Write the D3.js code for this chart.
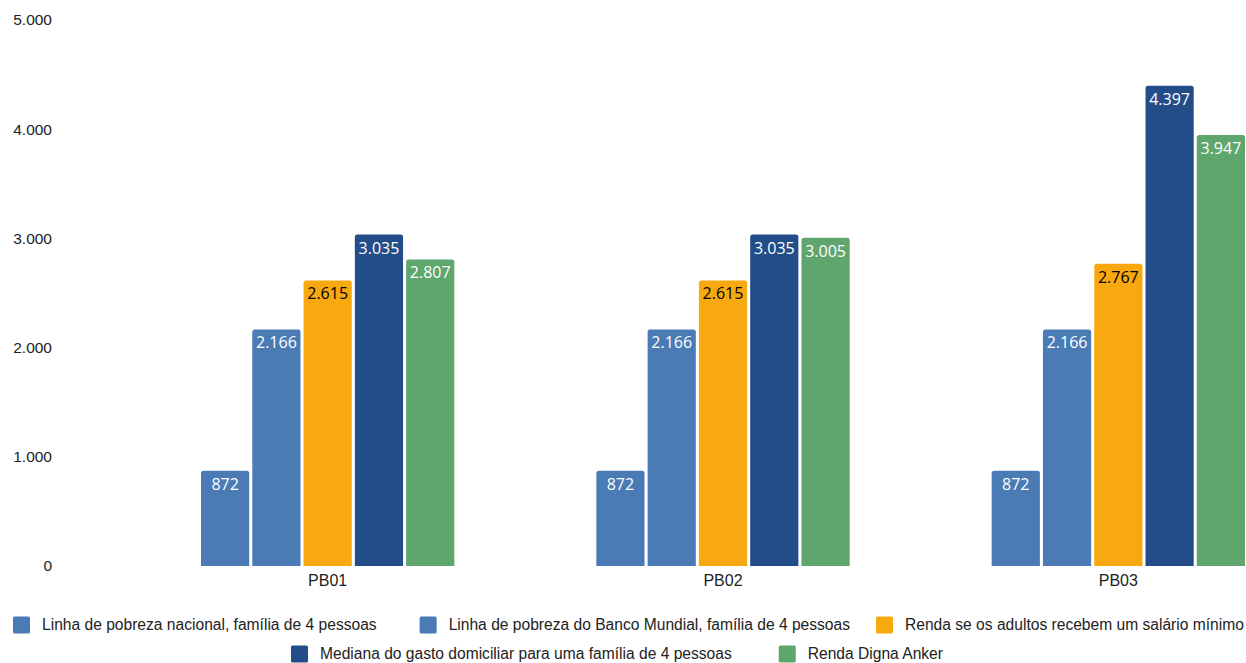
<!DOCTYPE html>
<html>
<head>
<meta charset="utf-8">
<script src="https://d3js.org/d3.v7.min.js"></script>
<style>
body { margin:0; background:#fff; }
text { font-family: "Liberation Sans", Arial, sans-serif; }
</style>
</head>
<body>
<div id="chart"></div>
<script>
// dados
var categories = ["PB01", "PB02", "PB03"];
var seriesNames = [
    "Linha de pobreza nacional, família de 4 pessoas",
    "Linha de pobreza do Banco Mundial, família de 4 pessoas",
    "Renda se os adultos recebem um salário mínimo",
    "Mediana do gasto domiciliar para uma família de 4 pessoas",
    "Renda Digna Anker"
];
var nacional = [872, 872, 872];
var bancoMundial = [2166, 2166, 2166];
var salarioMinimo = [2615, 2615, 2767];
var medianaGasto = [3035, 3035, 4397];
var rendaDigna = [2807, 3005, 3947];
var yTicks = [0, 1000, 2000, 3000, 4000, 5000];

var seriesValues = [nacional, bancoMundial, salarioMinimo, medianaGasto, rendaDigna];
var colors = ["#4a7bb5", "#4a7bb5", "#f7a90f", "#234d88", "#5ea66d"];
var labelColors = ["#fff", "#fff", "#000", "#fff", "#fff"];

var W = 1246, H = 663;
var svg = d3.select("#chart").append("svg").attr("width", W).attr("height", H);

var y = d3.scaleLinear().domain([0, 5000]).range([566, 20]);
var x0 = d3.scaleBand().domain(categories).range([130, 1316]);
var x1 = d3.scaleBand().domain(d3.range(seriesNames.length))
    .range([71, x0.bandwidth() - 71]).paddingInner(0.06);

function fmt(v){ return d3.format(",")(v).replace(/,/g, "."); }

// eixo y (somente textos)
svg.selectAll(".yLabel").data(yTicks).enter().append("text")
    .attr("class", "yLabel")
    .attr("x", 52)
    .attr("y", function(d){ return y(d); })
    .attr("dy", "0.35em")
    .attr("text-anchor", "end")
    .style("font-size", "15.5px")
    .style("fill", "#222")
    .text(fmt);

// rótulos das categorias
svg.selectAll(".xLabel").data(categories).enter().append("text")
    .attr("class", "xLabel")
    .attr("x", function(d){ return x0(d) + x0.bandwidth()/2; })
    .attr("y", 580)
    .attr("dy", "0.35em")
    .attr("text-anchor", "middle")
    .style("font-size", "16px")
    .style("fill", "#222")
    .text(function(d){ return d; });

function topRounded(x, yTop, w, h, r){
    return "M" + x + "," + (yTop + h) +
        "V" + (yTop + r) +
        "Q" + x + "," + yTop + " " + (x + r) + "," + yTop +
        "H" + (x + w - r) +
        "Q" + (x + w) + "," + yTop + " " + (x + w) + "," + (yTop + r) +
        "V" + (yTop + h) + "Z";
}

var groups = svg.selectAll(".grp").data(categories).enter().append("g")
    .attr("class", "grp")
    .attr("transform", function(d){ return "translate(" + x0(d) + ",0)"; });

groups.each(function(cat, ci){
    var g = d3.select(this);
    var vals = seriesValues.map(function(s, si){ return {si: si, v: s[ci]}; });
    g.selectAll("path").data(vals).enter().append("path")
        .attr("fill", function(d){ return colors[d.si]; })
        .attr("d", function(d){
            return topRounded(x1(d.si), y(d.v), x1.bandwidth(), y(0) - y(d.v), 2.5);
        });
    g.selectAll("text").data(vals).enter().append("text")
        .attr("x", function(d){ return x1(d.si) + x1.bandwidth()/2; })
        .attr("y", function(d){ return y(d.v) + 19; })
        .attr("text-anchor", "middle")
        .style("font-family", "'Open Sans', sans-serif")
        .style("font-size", "16px")
        .style("fill", function(d){ return labelColors[d.si]; })
        .text(function(d){ return fmt(d.v); });
});

// legenda
var legendRows = [[0, 1, 2], [3, 4]];
var rowY = [625, 654];
var rowStart = [13, 291];
var rowGaps = [[43, 26], [47]];
legendRows.forEach(function(row, ri){
    var lg = svg.append("g").attr("transform", "translate(" + rowStart[ri] + ",0)");
    var xpos = 0;
    row.forEach(function(si, k){
        var item = lg.append("g").attr("transform", "translate(" + xpos + ",0)");
        item.append("rect")
            .attr("x", 0).attr("y", rowY[ri] - 8.5)
            .attr("width", 17).attr("height", 17)
            .attr("rx", 1.5)
            .attr("fill", colors[si]);
        var t = item.append("text")
            .attr("x", 29).attr("y", rowY[ri])
            .attr("dy", "0.35em")
            .style("font-size", "15.6px")
            .style("fill", "#222")
            .text(seriesNames[si]);
        xpos += 29 + t.node().getComputedTextLength() + (rowGaps[ri][k] || 0);
    });
});
</script>
</body>
</html>
